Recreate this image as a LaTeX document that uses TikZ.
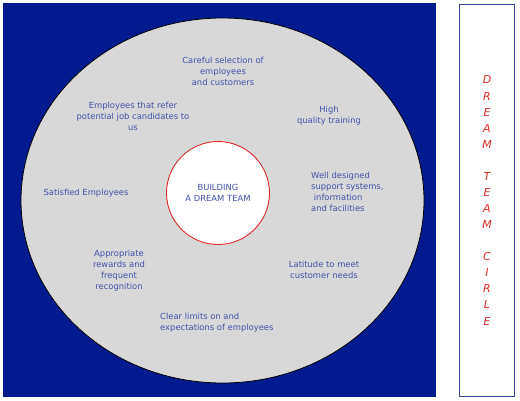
\documentclass[tikz,border=0pt]{standalone}
\usepackage{fontspec}
\setmainfont{DejaVu Sans}
\usetikzlibrary{shapes.geometric}
\definecolor{navybg}{RGB}{2,26,144}
\definecolor{ringgray}{RGB}{216,216,216}
\definecolor{textblue}{RGB}{66,82,168}
\definecolor{dreamred}{RGB}{222,42,42}
\definecolor{framblue}{RGB}{58,72,162}
\begin{document}
\begin{tikzpicture}[x=1pt, y=-1pt,
  lbl/.style={text=textblue, font=\fontsize{8.4}{11}\selectfont, align=center, inner sep=0pt},
  lblleft/.style={lbl, align=left}]
\useasboundingbox (0,0) rectangle (520,400);
\fill[navybg] (3,3) rectangle (436,397);
\node[draw=black, line width=0.8pt, fill=ringgray, ellipse, minimum width=403pt, minimum height=365pt, inner sep=0pt] (Ring) at (222.5,200.5) {};
\node[draw=dreamred, line width=0.9pt, fill=white, circle, minimum size=103pt, inner sep=0pt] (Core) at (218,193) {};
\node[lbl] (Core_txt) at (Core.center) {BUILDING\\ A DREAM TEAM};
\node[lbl] (T_select) at (223,71) {Careful selection of\\ employees\\ and customers};
\node[lbl] (T_refer) at (133,116) {Employees that refer\\ potential job candidates to\\ us};
\node[lbl] (T_train) at (329,116) {High\\ quality training};
\node[lbl] (T_satis) at (86,193) {Satisfied Employees};
\node[lblleft, anchor=west] (T_support) at (311,192) {Well designed\\ support systems,\\ \ information\\ and facilities};
\node[lbl] (T_reward) at (119,271) {Appropriate\\ rewards and\\ frequent\\ recognition};
\node[lbl] (T_latit) at (324,270) {Latitude to meet\\ customer needs};
\node[lblleft, anchor=west] (T_limits) at (160,323) {Clear limits on and\\ expectations of employees};
\node[draw=framblue, line width=0.9pt, minimum width=55pt, minimum height=392pt, inner sep=0pt] (Side) at (486.5,200) {};
\node[text=dreamred, font=\fontsize{11}{16.07}\selectfont\itshape, align=center, inner sep=0pt] (Side_txt) at (487,200.5)
  {D\\ R\\ E\\ A\\ M\\ \strut\\ T\\ E\\ A\\ M\\ \strut\\ C\\ I\\ R\\ L\\ E};
\end{tikzpicture}
\end{document}
